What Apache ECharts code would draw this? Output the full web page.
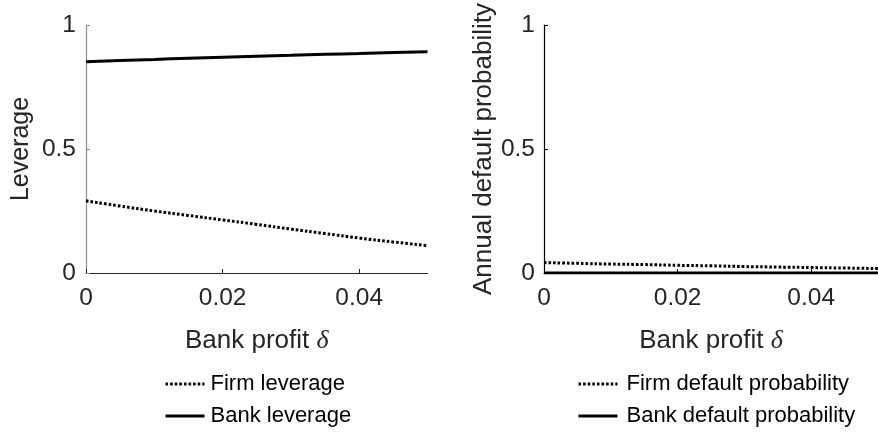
<!DOCTYPE html>
<html>
<head>
<meta charset="utf-8">
<script src="https://cdn.jsdelivr.net/npm/echarts@6/dist/echarts.min.js"></script>
<style>html,body{margin:0;padding:0;background:#fff;}#c{width:878px;height:433px;}</style>
</head>
<body>
<div id="c"></div>
<script>
// Data
var delta = [0, 0.005, 0.01, 0.015, 0.02, 0.025, 0.03, 0.035, 0.04, 0.045, 0.05];
var firmLeverage = [0.291, 0.270, 0.250, 0.232, 0.214, 0.196, 0.177, 0.159, 0.141, 0.125, 0.110];
var bankLeverage = [0.852, 0.857, 0.861, 0.866, 0.870, 0.874, 0.878, 0.882, 0.885, 0.889, 0.892];
var firmDefault = [0.042, 0.039, 0.036, 0.034, 0.031, 0.029, 0.026, 0.024, 0.022, 0.020, 0.018];
var bankDefault = [0.0005, 0.0005, 0.0005, 0.0005, 0.0005, 0.0005, 0.0005, 0.0005, 0.0005, 0.0005, 0.0005];
var xTicks = [0, 0.02, 0.04];
var seriesNames = ['Firm leverage', 'Bank leverage', 'Firm default probability', 'Bank default probability'];

function pairs(ys) { return delta.map(function (x, i) { return [x, ys[i]]; }); }

var FONT = "'Liberation Sans', Arial, Helvetica, sans-serif";
var TXT = '#262626';

function xAxis(idx, axisColor) {
  return {
    type: 'value', gridIndex: idx, min: 0, max: 0.05,
    name: 'Bank profit {d|δ}', nameLocation: 'middle', nameGap: 55,
    nameTextStyle: { fontFamily: FONT, fontSize: 26, color: TXT,
      rich: { d: { fontFamily: "'Liberation Serif', 'DejaVu Serif', serif", fontStyle: 'italic', fontSize: 26, color: TXT } } },
    axisLine: { show: true, lineStyle: { color: axisColor, width: 1 } },
    axisTick: { show: true, inside: true, length: 4, customValues: xTicks, lineStyle: { color: axisColor } },
    axisLabel: { customValues: xTicks, margin: 13, fontFamily: FONT, fontSize: 24.5, color: TXT },
    splitLine: { show: false }
  };
}
function yAxis(idx, name, gap, axisColor, margin, nameSize) {
  return {
    type: 'value', gridIndex: idx, min: 0, max: 1, interval: 0.5,
    name: name, nameLocation: 'middle', nameGap: gap,
    nameTextStyle: { fontFamily: FONT, fontSize: nameSize, color: TXT },
    axisLine: { show: true, lineStyle: { color: axisColor, width: 1.2 } },
    axisTick: { show: true, inside: true, length: 4, lineStyle: { color: axisColor } },
    axisLabel: { margin: margin, fontFamily: FONT, fontSize: 24.5, color: TXT },
    splitLine: { show: false }
  };
}
var dotted = { color: '#000', width: 3, type: [2.6, 2], cap: 'butt' };
var solid = { color: '#000', width: 3 };

function legendItem(name, left, top, pad) {
  return {
    data: [name], orient: 'vertical', left: left, top: top,
    itemWidth: 39, itemHeight: 14, padding: 0,
    itemStyle: { color: 'rgba(0,0,0,0)', borderWidth: 0, opacity: 0 },
    lineStyle: { width: 3 },
    textStyle: { fontFamily: FONT, fontSize: 22, color: '#000', padding: [0, 0, 0, pad] }
  };
}

var option = {
  animation: false,
  backgroundColor: '#fff',
  grid: [
    { left: 86, top: 25, right: 450.5, bottom: 160, containLabel: false },
    { left: 544, top: 25, right: -8.5, bottom: 160, containLabel: false }
  ],
  xAxis: [xAxis(0, '#262626'), xAxis(1, '#000')],
  yAxis: [yAxis(0, 'Leverage', 52, '#8c8c8c', 10, 25), yAxis(1, 'Annual default probability', 45, '#000', 9, 26)],
  legend: [
    legendItem(seriesNames[0], 164, 373, 1),
    legendItem(seriesNames[1], 164, 405, 1),
    legendItem(seriesNames[2], 577, 373, 4),
    legendItem(seriesNames[3], 577, 405, 4)
  ],
  series: [
    { name: seriesNames[0], type: 'line', xAxisIndex: 0, yAxisIndex: 0, data: pairs(firmLeverage),
      symbol: 'none', smooth: true, lineStyle: dotted, itemStyle: { color: '#000' } },
    { name: seriesNames[1], type: 'line', xAxisIndex: 0, yAxisIndex: 0, data: pairs(bankLeverage),
      symbol: 'none', smooth: true, lineStyle: solid, itemStyle: { color: '#000' } },
    { name: seriesNames[2], type: 'line', xAxisIndex: 1, yAxisIndex: 1, data: pairs(firmDefault),
      symbol: 'none', smooth: true, lineStyle: dotted, itemStyle: { color: '#000' } },
    { name: seriesNames[3], type: 'line', xAxisIndex: 1, yAxisIndex: 1, data: pairs(bankDefault),
      symbol: 'none', smooth: true, lineStyle: solid, itemStyle: { color: '#000' } }
  ]
};
var chart = echarts.init(document.getElementById('c'), null, { renderer: 'canvas' });
chart.setOption(option);
</script>
</body>
</html>
